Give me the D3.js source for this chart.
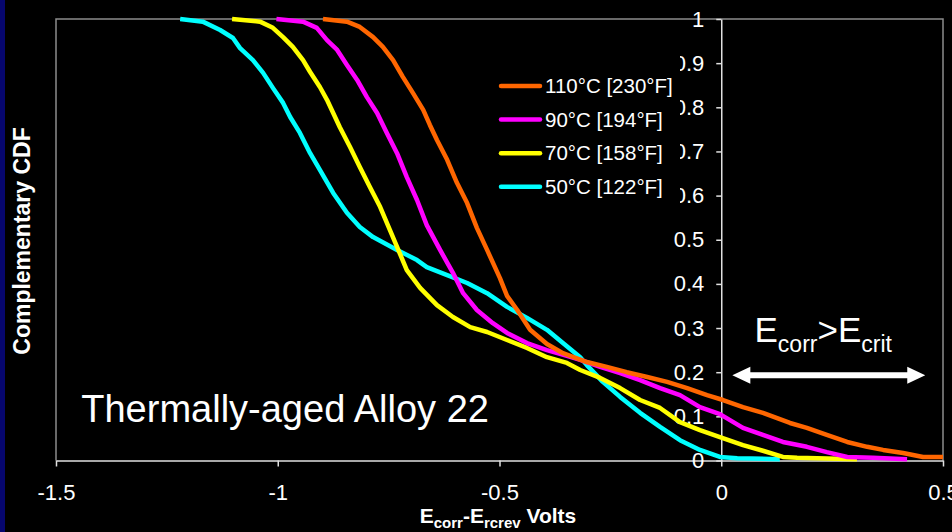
<!DOCTYPE html>
<html>
<head>
<meta charset="utf-8">
<script src="https://cdn.jsdelivr.net/npm/d3@7"></script>
<style>
  html, body { margin: 0; padding: 0; background: #000; }
  svg { display: block; }
  text { font-family: "Liberation Sans", Arial, sans-serif; fill: #fff; }
</style>
</head>
<body>
<svg id="chart" width="952" height="532"></svg>
<script>
// Complementary CDF of Ecorr - Ercrev (V) for thermally-aged Alloy 22, by test temperature
const seriesLabels = ["110°C [230°F]", "90°C [194°F]", "70°C [158°F]", "50°C [122°F]"];
const seriesColors = ["#ff6600", "#ff00ff", "#ffff00", "#00ffff"];

// [volts, complementary CDF]
const t110 = [
  [-0.898, 1.0], [-0.844, 0.994], [-0.815, 0.982], [-0.785, 0.959], [-0.763, 0.937],
  [-0.740, 0.907], [-0.718, 0.869], [-0.695, 0.832], [-0.672, 0.794], [-0.657, 0.760],
  [-0.641, 0.726], [-0.618, 0.681], [-0.596, 0.629], [-0.573, 0.583], [-0.551, 0.527],
  [-0.528, 0.477], [-0.499, 0.413], [-0.483, 0.373], [-0.460, 0.341], [-0.431, 0.296],
  [-0.393, 0.264], [-0.357, 0.243], [-0.303, 0.223], [-0.258, 0.212], [-0.213, 0.200],
  [-0.167, 0.189], [-0.122, 0.178], [-0.077, 0.164], [-0.032, 0.148], [0.004, 0.137],
  [0.049, 0.121], [0.094, 0.108], [0.155, 0.085], [0.193, 0.074], [0.238, 0.058],
  [0.284, 0.042], [0.329, 0.031], [0.365, 0.024], [0.410, 0.017], [0.455, 0.008],
  [0.500, 0.008]
];
const t90 = [
  [-1.003, 1.0], [-0.943, 0.994], [-0.912, 0.980], [-0.889, 0.952], [-0.866, 0.930],
  [-0.844, 0.896], [-0.821, 0.862], [-0.799, 0.823], [-0.776, 0.787], [-0.754, 0.742],
  [-0.731, 0.696], [-0.709, 0.642], [-0.686, 0.590], [-0.664, 0.533], [-0.634, 0.477],
  [-0.605, 0.425], [-0.582, 0.379], [-0.551, 0.341], [-0.515, 0.311], [-0.483, 0.289],
  [-0.438, 0.266], [-0.393, 0.250], [-0.348, 0.237], [-0.318, 0.228], [-0.273, 0.212],
  [-0.228, 0.198], [-0.183, 0.182], [-0.138, 0.164], [-0.093, 0.148], [-0.048, 0.121],
  [-0.003, 0.105], [0.049, 0.074], [0.094, 0.058], [0.139, 0.042], [0.193, 0.031],
  [0.238, 0.019], [0.284, 0.008], [0.342, 0.006], [0.419, 0.003]
];
const t70 = [
  [-1.103, 1.0], [-1.040, 0.994], [-1.011, 0.980], [-0.988, 0.959], [-0.966, 0.937],
  [-0.943, 0.907], [-0.927, 0.880], [-0.905, 0.846], [-0.889, 0.817], [-0.875, 0.787],
  [-0.860, 0.755], [-0.837, 0.710], [-0.815, 0.665], [-0.792, 0.619], [-0.769, 0.574],
  [-0.747, 0.522], [-0.731, 0.484], [-0.709, 0.431], [-0.679, 0.391], [-0.641, 0.352],
  [-0.605, 0.325], [-0.566, 0.302], [-0.528, 0.291], [-0.483, 0.273], [-0.438, 0.255],
  [-0.393, 0.234], [-0.348, 0.221], [-0.318, 0.205], [-0.273, 0.187], [-0.228, 0.164],
  [-0.183, 0.137], [-0.138, 0.119], [-0.093, 0.087], [-0.048, 0.069], [-0.003, 0.053],
  [0.049, 0.035], [0.094, 0.022], [0.139, 0.008], [0.171, 0.006], [0.306, 0.003]
];
const t50 = [
  [-1.220, 1.0], [-1.169, 0.994], [-1.130, 0.975], [-1.101, 0.957], [-1.085, 0.934],
  [-1.056, 0.907], [-1.033, 0.878], [-1.011, 0.844], [-0.988, 0.810], [-0.972, 0.778],
  [-0.950, 0.742], [-0.927, 0.696], [-0.905, 0.658], [-0.875, 0.606], [-0.844, 0.561],
  [-0.815, 0.529], [-0.785, 0.506], [-0.731, 0.477], [-0.686, 0.454], [-0.664, 0.438],
  [-0.618, 0.420], [-0.573, 0.402], [-0.528, 0.379], [-0.483, 0.348], [-0.438, 0.323],
  [-0.393, 0.296], [-0.357, 0.266], [-0.318, 0.234], [-0.303, 0.216], [-0.267, 0.178],
  [-0.228, 0.144], [-0.183, 0.108], [-0.138, 0.076], [-0.093, 0.046], [-0.048, 0.024],
  [-0.003, 0.008], [0.036, 0.005], [0.132, 0.003]
];
const seriesData = [t110, t90, t70, t50];

const xTicks = [-1.5, -1, -0.5, 0, 0.5];
const yTicks = [0, 0.1, 0.2, 0.3, 0.4, 0.5, 0.6, 0.7, 0.8, 0.9, 1];

const svg = d3.select("#chart");
const W = 952, H = 532;

svg.append("rect").attr("width", W).attr("height", H).attr("fill", "#000");
svg.append("rect").attr("width", 5).attr("height", H).attr("fill", "#06066e");

const x = d3.scaleLinear().domain([-1.5, 0.5]).range([56, 943]);
const y = d3.scaleLinear().domain([0, 1]).range([460.5, 19]);

// plot frame
const frame = svg.append("g").attr("stroke", "#8c8c8c").attr("stroke-width", 1.5).attr("fill", "none");
frame.append("path").attr("d", `M${x(-1.5)},${y(0)}V${y(1)}H${x(0.5)}V${y(0)}`);

// x axis along CDF = 0
const xAxis = svg.append("g")
  .attr("transform", `translate(0,${y(0)})`)
  .call(d3.axisBottom(x).tickValues(xTicks).tickFormat(d => String(d))
    .tickSize(6).tickSizeOuter(0).tickPadding(18));
xAxis.selectAll("path, line").attr("stroke", "#e0e0e0").attr("stroke-width", 1.5);
xAxis.selectAll("text").attr("font-size", 22).attr("fill", "#fff")
  .style("font-family", "'Liberation Sans', Arial, sans-serif");

// y axis along 0 V
const yAxis = svg.append("g")
  .attr("transform", `translate(${x(0)},0)`)
  .call(d3.axisLeft(y).tickValues(yTicks).tickFormat(d => String(d))
    .tickSize(5).tickSizeOuter(0).tickPadding(12));
yAxis.selectAll("path, line").attr("stroke", "#e0e0e0").attr("stroke-width", 1.5);
yAxis.selectAll("text").attr("font-size", 22).attr("fill", "#fff")
  .style("font-family", "'Liberation Sans', Arial, sans-serif");

// curves
const line = d3.line().x(d => x(d[0])).y(d => y(d[1]));
svg.append("g").selectAll("path")
  .data(seriesData.slice().reverse())
  .join("path")
  .attr("d", line)
  .attr("fill", "none")
  .attr("stroke", (d, i) => seriesColors[seriesData.length - 1 - i])
  .attr("stroke-width", 4.5)
  .attr("stroke-linejoin", "round")
  .attr("stroke-linecap", "butt");

// legend
const legend = svg.append("g");
legend.append("rect").attr("x", 494).attr("y", 54).attr("width", 186).attr("height", 152).attr("fill", "#000");
const rows = legend.selectAll("g.row").data(seriesLabels).join("g")
  .attr("class", "row")
  .attr("transform", (d, i) => `translate(0,${86 + i * 33.6})`);
rows.append("line").attr("x1", 501).attr("x2", 540).attr("y1", 0).attr("y2", 0)
  .attr("stroke", (d, i) => seriesColors[i]).attr("stroke-width", 4.5).attr("stroke-linecap", "round");
rows.append("text").attr("x", 545).attr("y", 0).attr("dy", "0.35em")
  .attr("font-size", 20.5).text(d => d);

// annotations
svg.append("text").attr("x", x(-1.443)).attr("y", 422)
  .attr("font-size", 38).text("Thermally-aged Alloy 22");

const ann = svg.append("text").attr("x", x(0.075)).attr("y", 342).attr("font-size", 35);
ann.append("tspan").text("E");
ann.append("tspan").attr("font-size", 23).attr("dy", 10).text("corr");
ann.append("tspan").attr("dy", -10).text(">E");
ann.append("tspan").attr("font-size", 23).attr("dy", 10).text("crit");

// double-headed arrow spanning the Ecorr > Ecrit range
const aL = x(0.025), aR = x(0.46), aY = y(0.193), head = 18, hh = 8.5, sh = 3;
svg.append("path")
  .attr("d", `M${aL},${aY} L${aL + head},${aY - hh} L${aL + head},${aY - sh} L${aR - head},${aY - sh}
              L${aR - head},${aY - hh} L${aR},${aY} L${aR - head},${aY + hh} L${aR - head},${aY + sh}
              L${aL + head},${aY + sh} L${aL + head},${aY + hh} Z`)
  .attr("fill", "#fff");

// axis titles
const xt = svg.append("text").attr("x", 498).attr("y", 523).attr("text-anchor", "middle")
  .attr("font-size", 21).attr("font-weight", "bold");
xt.append("tspan").text("E");
xt.append("tspan").attr("font-size", 15).attr("dy", 5).text("corr");
xt.append("tspan").attr("dy", -5).text("-E");
xt.append("tspan").attr("font-size", 15).attr("dy", 5).text("rcrev");
xt.append("tspan").attr("dy", -5).text(" Volts");

svg.append("text")
  .attr("transform", "translate(30,241) rotate(-90)")
  .attr("text-anchor", "middle")
  .attr("font-size", 23).attr("font-weight", "bold")
  .text("Complementary CDF");
</script>
</body>
</html>
